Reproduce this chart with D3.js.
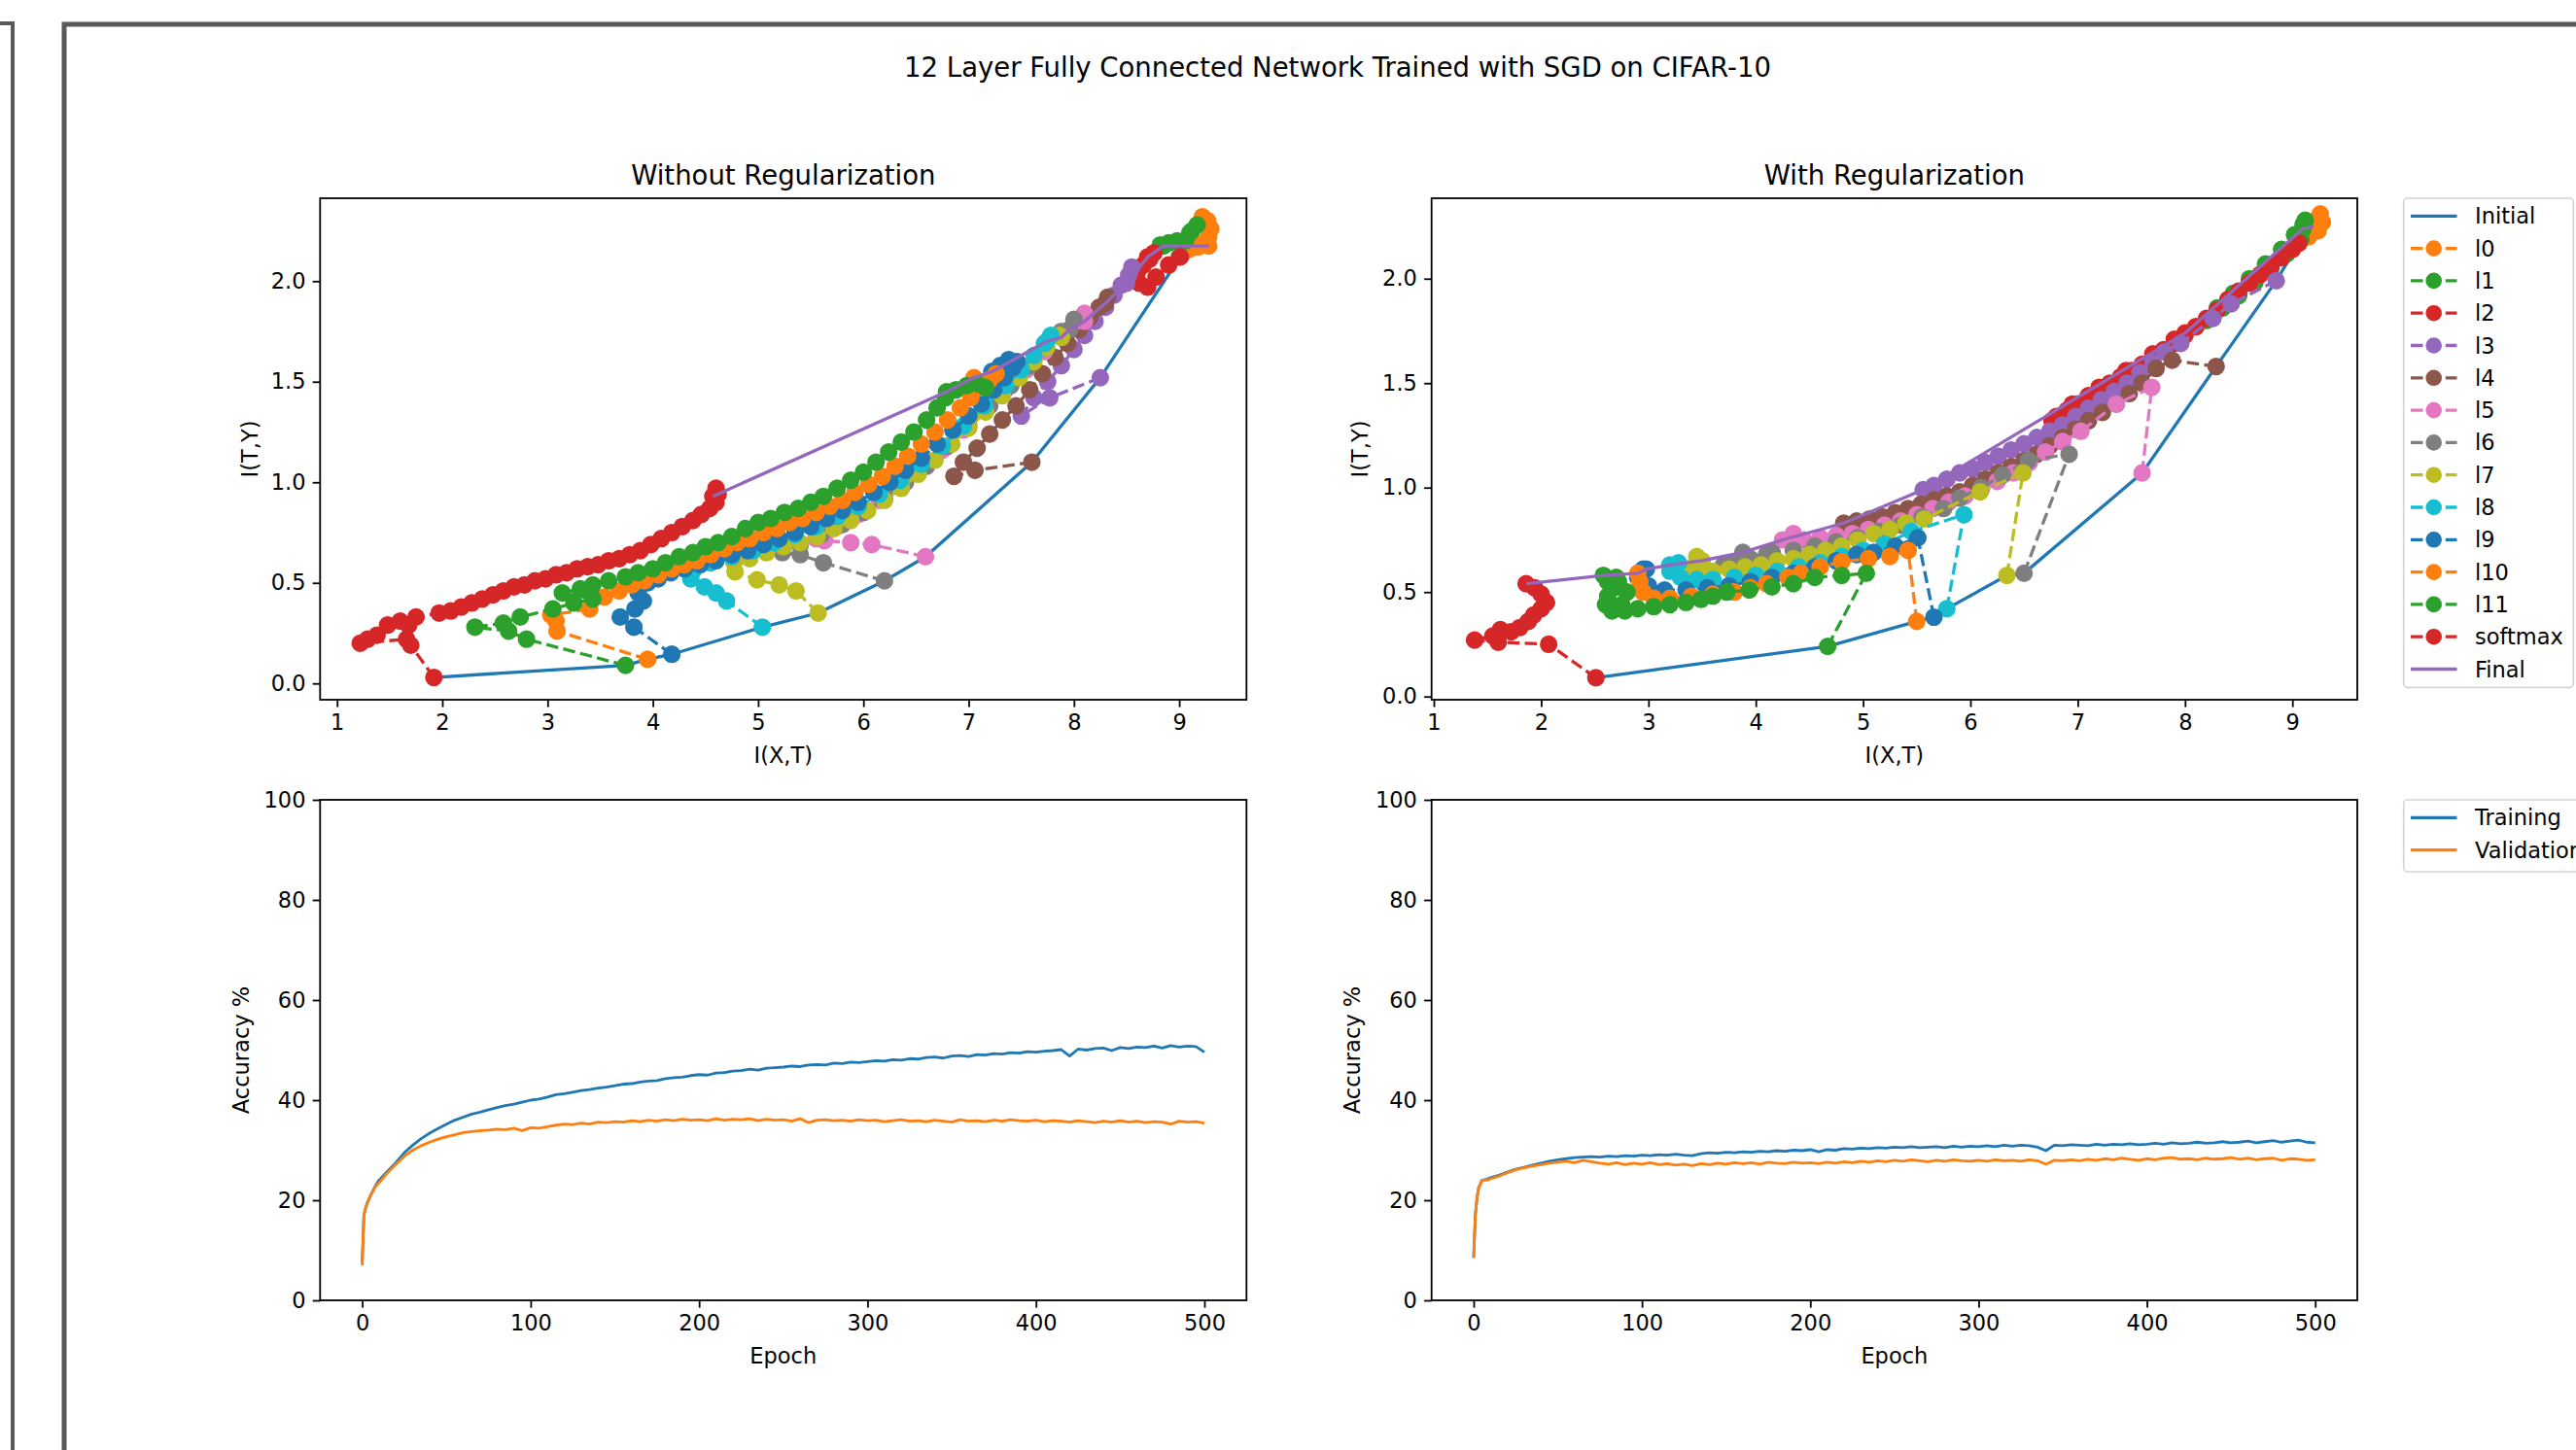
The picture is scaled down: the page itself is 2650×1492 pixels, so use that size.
<!DOCTYPE html>
<html lang='en'>
<head>
<meta charset='UTF-8'>
<title>12 Layer Fully Connected Network Trained with SGD on CIFAR-10</title>
<script src='https://cdn.jsdelivr.net/npm/d3@7/dist/d3.min.js'></script>
<style>
    body { margin: 0; background: #fff; }
    svg text { font-family: 'DejaVu Sans', sans-serif; fill: #000; }
    .axis line { stroke: #000; stroke-width: 1.8; }
    .axis text { font-size: 22.5px; }
</style>
</head>
<body>
<script>
// ---------- information plane trajectories, without regularization ----------
const nrL0 = [[9.02,2.13],[9.1,2.16],[9.18,2.17],[9.24,2.19],[9.28,2.22],[9.3,2.26],[9.27,2.3],[9.22,2.32],[9.26,2.2],[9.28,2.175]];
const nrL1 = [[9.0,2.12],[9.06,2.2],[9.12,2.25],[9.17,2.28],[9.1,2.24],[8.98,2.2],[8.9,2.19],[8.82,2.18],[8.85,2.175]];
const nrL2 = [[9.01,2.12],[8.9,2.08],[8.78,2.02],[8.7,1.97],[8.62,1.99],[8.6,2.04],[8.66,2.08],[8.72,2.11],[8.76,2.14],[8.7,2.12]];
const nrL3 = [[8.25,1.52],[7.77,1.42],[7.5,1.33],[7.62,1.42],[7.75,1.5],[7.88,1.58],[8.0,1.66],[8.1,1.73],[8.2,1.8],[8.3,1.87],[8.38,1.93],[8.45,1.98],[8.52,2.03],[8.55,2.07],[8.5,1.99]];
const nrL4 = [[7.6,1.10],[7.06,1.06],[6.86,1.03],[6.95,1.1],[7.08,1.17],[7.2,1.24],[7.32,1.31],[7.45,1.38],[7.58,1.46],[7.7,1.54],[7.82,1.62],[7.94,1.69],[8.05,1.76],[8.15,1.82],[8.24,1.87],[8.32,1.92],[8.3,1.89]];
const nrL5 = [[6.59,0.63],[6.08,0.69],[5.88,0.7],[5.63,0.71],[5.55,0.72],[5.75,0.78],[5.95,0.84],[6.15,0.91],[6.35,0.99],[6.55,1.07],[6.75,1.16],[6.95,1.26],[7.15,1.36],[7.35,1.46],[7.55,1.56],[7.72,1.65],[7.88,1.73],[8.02,1.8],[8.1,1.84],[8.1,1.8]];
const nrL6 = [[6.2,0.51],[5.62,0.6],[5.4,0.64],[5.23,0.65],[5.4,0.69],[5.6,0.74],[5.8,0.79],[6.0,0.85],[6.2,0.92],[6.4,1.0],[6.6,1.08],[6.8,1.18],[7.0,1.28],[7.2,1.38],[7.4,1.48],[7.58,1.58],[7.74,1.67],[7.88,1.75],[8.0,1.81],[7.96,1.76]];
const nrL7 = [[5.57,0.35],[5.36,0.46],[5.2,0.49],[4.99,0.515],[4.78,0.555],[4.77,0.6],[4.92,0.62],[5.08,0.65],[5.24,0.68],[5.4,0.7],[5.56,0.73],[5.72,0.77],[5.88,0.81],[6.04,0.86],[6.2,0.91],[6.36,0.97],[6.52,1.04],[6.68,1.11],[6.84,1.19],[7.0,1.27],[7.16,1.35],[7.32,1.43],[7.48,1.52],[7.62,1.6],[7.74,1.67],[7.86,1.73],[7.88,1.72]];
const nrL8 = [[5.04,0.28],[4.7,0.41],[4.6,0.45],[4.49,0.48],[4.36,0.52],[4.38,0.56],[4.55,0.6],[4.75,0.63],[4.95,0.66],[5.15,0.7],[5.35,0.74],[5.55,0.78],[5.75,0.83],[5.95,0.88],[6.15,0.94],[6.35,1.01],[6.55,1.09],[6.75,1.18],[6.95,1.28],[7.15,1.38],[7.35,1.48],[7.5,1.56],[7.62,1.63],[7.72,1.69],[7.78,1.73],[7.74,1.7]];
const nrL9 = [[4.18,0.145],[3.82,0.28],[3.69,0.33],[3.83,0.37],[3.91,0.41],[3.86,0.45],[3.95,0.5],[4.05,0.52],[4.17,0.55],[4.3,0.57],[4.45,0.59],[4.6,0.61],[4.75,0.64],[4.9,0.66],[5.05,0.69],[5.2,0.72],[5.35,0.75],[5.5,0.78],[5.65,0.82],[5.8,0.86],[5.95,0.9],[6.1,0.95],[6.25,1.0],[6.4,1.06],[6.55,1.12],[6.7,1.19],[6.85,1.26],[7.0,1.33],[7.12,1.39],[7.24,1.46],[7.34,1.52],[7.42,1.57],[7.46,1.6],[7.38,1.61],[7.3,1.58],[7.22,1.55]];
const nrL10 = [[3.95,0.12],[3.09,0.26],[3.08,0.31],[3.03,0.34],[3.4,0.37],[3.54,0.43],[3.68,0.46],[3.8,0.49],[3.92,0.51],[4.05,0.54],[4.18,0.57],[4.3,0.59],[4.42,0.61],[4.55,0.64],[4.68,0.67],[4.8,0.7],[4.92,0.72],[5.05,0.75],[5.18,0.77],[5.3,0.8],[5.42,0.82],[5.55,0.85],[5.68,0.88],[5.8,0.91],[5.92,0.95],[6.05,0.99],[6.18,1.03],[6.3,1.08],[6.42,1.13],[6.55,1.19],[6.68,1.25],[6.8,1.31],[6.92,1.37],[7.02,1.42],[7.12,1.47],[7.2,1.51],[7.26,1.54],[7.05,1.52]];
const nrL11 = [[3.74,0.09],[2.8,0.22],[2.63,0.26],[2.31,0.28],[2.58,0.3],[2.74,0.33],[3.05,0.37],[3.25,0.40],[3.43,0.42],[3.14,0.45],[3.31,0.47],[3.43,0.49],[3.58,0.51],[3.74,0.53],[3.86,0.55],[4.0,0.57],[4.12,0.6],[4.25,0.63],[4.38,0.65],[4.5,0.68],[4.62,0.7],[4.75,0.73],[4.88,0.77],[5.0,0.8],[5.12,0.82],[5.25,0.85],[5.38,0.87],[5.5,0.9],[5.62,0.93],[5.75,0.97],[5.88,1.01],[6.0,1.05],[6.12,1.1],[6.24,1.15],[6.36,1.2],[6.48,1.25],[6.6,1.31],[6.7,1.37],[6.78,1.42],[6.88,1.46],[6.98,1.48],[7.08,1.49],[7.16,1.47],[6.79,1.45]];
const nrSoftmax = [[1.92,0.03],[1.70,0.19],[1.66,0.22],[1.22,0.2],[1.29,0.22],[1.38,0.24],[1.48,0.29],[1.6,0.31],[1.68,0.29],[1.75,0.33],[1.97,0.35],[2.08,0.36],[2.18,0.38],[2.28,0.4],[2.38,0.42],[2.48,0.44],[2.58,0.46],[2.68,0.48],[2.78,0.49],[2.88,0.51],[2.98,0.52],[3.08,0.54],[3.18,0.55],[3.28,0.57],[3.38,0.58],[3.48,0.59],[3.58,0.61],[3.68,0.62],[3.78,0.64],[3.88,0.66],[3.98,0.69],[4.08,0.72],[4.18,0.75],[4.28,0.78],[4.38,0.81],[4.46,0.84],[4.54,0.87],[4.6,0.9],[4.62,0.94],[4.6,0.97],[4.57,0.93]];

// ---------- information plane trajectories, with regularization ----------
const wrL0 = [[9.1,2.2],[9.16,2.24],[9.22,2.28],[9.26,2.31],[9.28,2.27],[9.24,2.23],[9.15,2.2],[9.2,2.25]];
const wrL1 = [[9.08,2.19],[8.95,2.12],[8.8,2.05],[8.65,1.98],[8.5,1.92],[8.35,1.86],[8.2,1.8],[8.3,1.86],[8.45,1.93],[8.6,2.0],[8.75,2.07],[8.9,2.14],[9.02,2.21],[9.1,2.26],[9.12,2.28],[9.1,2.24]];
const wrL2 = [[9.06,2.17],[9.0,2.14],[8.9,2.1],[8.8,2.06],[8.7,2.02],[8.6,1.98],[8.5,1.94],[8.4,1.9],[8.3,1.85],[8.2,1.81],[8.1,1.77],[8.0,1.73],[7.9,1.69],[7.8,1.66],[7.7,1.62],[7.6,1.59],[7.5,1.56],[7.4,1.53],[7.3,1.5],[7.2,1.47],[7.1,1.44],[7.0,1.4],[6.9,1.37],[6.8,1.34],[6.76,1.32],[6.95,1.4],[7.2,1.48],[7.45,1.56],[7.7,1.64],[7.9,1.71],[8.0,1.74]];
const wrL3 = [[8.85,1.99],[8.43,1.88],[8.26,1.81],[7.96,1.69],[7.81,1.65],[7.7,1.6],[7.58,1.55],[7.46,1.5],[7.34,1.46],[7.22,1.42],[7.1,1.38],[6.98,1.34],[6.86,1.3],[6.74,1.27],[6.62,1.24],[6.5,1.21],[6.38,1.18],[6.26,1.15],[6.14,1.12],[6.02,1.09],[5.9,1.07],[5.78,1.04],[5.66,1.01],[5.56,0.99]];
const wrL4 = [[8.29,1.58],[7.88,1.61],[7.73,1.57],[7.6,1.5],[7.48,1.45],[7.36,1.4],[7.23,1.36],[7.1,1.32],[6.98,1.28],[6.86,1.24],[6.74,1.2],[6.62,1.16],[6.5,1.13],[6.38,1.1],[6.26,1.07],[6.14,1.04],[6.02,1.01],[5.9,0.98],[5.78,0.96],[5.66,0.94],[5.54,0.92],[5.42,0.9],[5.3,0.88],[5.18,0.86],[5.06,0.85],[4.94,0.84],[4.82,0.83]];
const wrL5 = [[7.6,1.07],[7.69,1.48],[7.36,1.4],[7.03,1.27],[6.86,1.22],[6.7,1.17],[6.55,1.12],[6.4,1.07],[6.25,1.03],[6.1,0.99],[5.95,0.96],[5.8,0.93],[5.65,0.9],[5.5,0.87],[5.35,0.84],[5.2,0.82],[5.05,0.8],[4.9,0.78],[4.75,0.77],[4.6,0.76],[4.45,0.75],[4.35,0.78],[4.25,0.75]];
const wrL6 = [[6.5,0.59],[6.92,1.16],[6.54,1.13],[6.3,1.06],[6.1,1.0],[5.9,0.95],[5.75,0.9],[5.55,0.86],[5.35,0.82],[5.15,0.79],[4.95,0.76],[4.75,0.74],[4.55,0.72],[4.35,0.7],[4.15,0.69],[4.1,0.68],[3.95,0.66],[3.8,0.64],[3.7,0.63],[3.88,0.69]];
const wrL7 = [[6.34,0.58],[6.49,1.07],[6.09,0.98],[5.57,0.85],[5.4,0.83],[5.25,0.8],[5.1,0.78],[4.95,0.75],[4.8,0.72],[4.65,0.7],[4.5,0.68],[4.35,0.66],[4.2,0.65],[4.05,0.63],[3.9,0.62],[3.75,0.61],[3.6,0.6],[3.5,0.58],[3.42,0.62],[3.45,0.67],[3.5,0.65]];
const wrL8 = [[5.78,0.42],[5.94,0.87],[5.45,0.79],[5.2,0.73],[5.0,0.7],[4.8,0.67],[4.6,0.64],[4.4,0.62],[4.2,0.6],[4.0,0.58],[3.8,0.57],[3.6,0.56],[3.45,0.56],[3.3,0.57],[3.2,0.6],[3.28,0.64],[3.2,0.63]];
const wrL9 = [[5.66,0.38],[5.51,0.76],[5.3,0.72],[5.1,0.69],[4.94,0.68],[4.75,0.65],[4.55,0.62],[4.35,0.59],[4.15,0.57],[3.95,0.55],[3.75,0.53],[3.55,0.52],[3.35,0.51],[3.15,0.51],[3.0,0.53],[2.9,0.57],[2.95,0.61],[2.98,0.61]];
const wrL10 = [[5.5,0.36],[5.42,0.7],[5.25,0.67],[5.05,0.66],[4.8,0.645],[4.6,0.62],[4.42,0.59],[4.3,0.57],[4.1,0.54],[3.95,0.52],[3.8,0.5],[3.6,0.49],[3.4,0.48],[3.2,0.47],[3.05,0.47],[2.95,0.5],[2.92,0.55],[2.9,0.59]];
const wrL11 = [[4.67,0.24],[5.03,0.59],[4.8,0.58],[4.55,0.57],[4.35,0.54],[4.15,0.525],[3.94,0.51],[3.73,0.5],[3.6,0.48],[3.49,0.465],[3.35,0.45],[3.2,0.44],[3.05,0.43],[2.9,0.42],[2.78,0.41],[2.66,0.41],[2.75,0.44],[2.6,0.44],[2.62,0.48],[2.8,0.5],[2.66,0.52],[2.72,0.55],[2.62,0.55],[2.7,0.57],[2.58,0.58]];
const wrSoftmax = [[2.51,0.09],[2.07,0.25],[1.6,0.26],[1.38,0.27],[1.55,0.29],[1.62,0.32],[1.72,0.31],[1.8,0.33],[1.88,0.36],[1.93,0.39],[2.0,0.42],[2.05,0.45],[2.0,0.49],[1.94,0.52],[1.86,0.54]];

const layerNames = ['l0', 'l1', 'l2', 'l3', 'l4', 'l5', 'l6', 'l7', 'l8', 'l9', 'l10', 'l11', 'softmax'];
const noRegLayers = [nrL0, nrL1, nrL2, nrL3, nrL4, nrL5, nrL6, nrL7, nrL8, nrL9, nrL10, nrL11, nrSoftmax];
const withRegLayers = [wrL0, wrL1, wrL2, wrL3, wrL4, wrL5, wrL6, wrL7, wrL8, wrL9, wrL10, wrL11, wrSoftmax];

// ---------- accuracy curves ----------
const epochs = [0,1,2,3,5,8,10,15,20,25,30,35,40,45,50,55,60,65,70,75,80,85,90,95,100,105,110,115,120,125,130,135,140,145,150,155,160,165,170,175,180,185,190,195,200,205,210,215,220,225,230,235,240,245,250,255,260,265,270,275,280,285,290,295,300,305,310,315,320,325,330,335,340,345,350,355,360,365,370,375,380,385,390,395,400,405,410,415,420,425,430,435,440,445,450,455,460,465,470,475,480,485,490,495,500];
const noRegTraining = [7.5,17,18.5,19.5,21,23,
    24,25.8,27.5,29.5,31,32.3,33.4,34.3,35.2,36,36.6,37.2,37.6,38.1,38.5,38.9,39.2,39.6,40.0,
    40.2,40.6,41.1,41.3,41.6,41.9,42.1,42.4,42.6,42.9,43.2,43.3,43.6,43.8,43.9,44.3,44.5,44.6,44.9,45.1,
    45.0,45.4,45.5,45.8,45.9,46.2,46.0,46.4,46.5,46.6,46.8,46.7,47.0,47.1,47.0,47.4,47.3,47.6,47.5,47.7,
    47.9,47.8,48.1,48.0,48.3,48.2,48.5,48.6,48.4,48.8,48.9,48.7,49.1,49.0,49.3,49.2,49.5,49.4,49.7,49.6,
    49.8,49.9,50.1,48.8,50.2,50.0,50.3,50.4,49.9,50.5,50.3,50.6,50.5,50.8,50.4,50.9,50.6,50.8,50.7,49.6];
const noRegValidation = [7,17,18.3,19.3,21,22.8,
    23.5,25.5,27.2,28.8,30,30.9,31.6,32.2,32.7,33.1,33.5,33.7,33.9,34.0,34.2,34.1,34.4,33.9,34.5,
    34.4,34.7,35.0,35.2,35.1,35.4,35.2,35.6,35.5,35.7,35.6,35.9,35.7,36.0,35.8,36.1,35.9,36.2,36.0,36.1,
    35.9,36.3,36.0,36.2,36.1,36.3,35.9,36.2,36.0,36.1,35.8,36.3,35.5,36.0,36.1,35.9,36.0,35.8,36.1,35.9,
    36.0,35.7,35.9,36.1,35.8,35.9,35.7,36.0,35.8,35.6,36.1,35.8,35.9,35.7,36.0,35.8,36.1,35.9,35.8,36.0,
    35.7,35.9,35.8,35.6,35.9,35.7,35.5,35.8,35.6,35.9,35.6,35.8,35.5,35.7,35.6,35.2,35.8,35.6,35.7,35.4];
const withRegTraining = [8.5,17,20.5,22.5,24,24.2,
    24.5,25,25.6,26.2,26.6,27,27.4,27.8,28.1,28.3,28.5,28.6,28.7,28.6,28.8,28.7,28.9,28.8,29.0,
    28.9,29.1,29.0,29.2,29.0,28.9,29.3,29.5,29.4,29.6,29.5,29.7,29.6,29.8,29.7,29.9,29.8,30.0,29.9,30.1,
    29.7,30.1,30.0,30.3,30.2,30.4,30.3,30.5,30.4,30.6,30.5,30.7,30.5,30.6,30.7,30.5,30.8,30.6,30.8,30.7,
    30.9,30.7,31.0,30.8,31.0,30.9,30.6,29.9,31.0,30.9,31.1,31.0,30.9,31.2,31.0,31.2,31.1,31.3,31.1,31.2,
    31.4,31.2,31.5,31.3,31.4,31.6,31.4,31.5,31.7,31.5,31.6,31.8,31.5,31.7,31.9,31.6,31.8,32.0,31.6,31.5];
const withRegValidation = [8.5,17,20.5,22.5,24,24,
    24.3,24.8,25.5,26.1,26.5,26.8,27.1,27.4,27.6,27.8,27.5,28.0,27.7,27.4,27.2,27.5,27.1,27.4,27.2,
    27.5,27.1,27.3,27.0,27.2,26.9,27.3,27.1,27.4,27.2,27.5,27.3,27.5,27.2,27.6,27.4,27.3,27.6,27.4,27.5,
    27.3,27.6,27.4,27.7,27.5,27.8,27.6,27.9,27.7,28.0,27.8,28.1,27.9,27.7,28.0,27.8,28.1,27.9,27.8,28.0,
    27.8,28.1,27.9,28.0,27.8,28.1,27.9,27.2,28.0,27.9,28.1,27.9,28.2,28.0,28.3,28.1,28.4,28.2,28.0,28.3,
    28.1,28.4,28.5,28.2,28.3,28.1,28.4,28.2,28.3,28.5,28.2,28.4,28.1,28.3,28.4,28.0,28.3,28.2,28.0,28.1];

const infoXTicks = [1, 2, 3, 4, 5, 6, 7, 8, 9];
const infoYTicks = [0, 0.5, 1.0, 1.5, 2.0];
const epochTicks = [0, 100, 200, 300, 400, 500];
const accTicks = [0, 20, 40, 60, 80, 100];

/**
 * ===================================================
 * Layout and styles
 * ===================================================
*/
const tab10 = ['#1f77b4', '#ff7f0e', '#2ca02c', '#d62728', '#9467bd', '#8c564b', '#e377c2', '#7f7f7f', '#bcbd22', '#17becf'];
// colour cycle: Initial takes the first colour, then l0 ... softmax, then Final
const layerColor = i => tab10[(i + 1) % 10];
const initialColor = tab10[0];
const finalColor = tab10[4];

const width = 2650, height = 1492;
const lineW = 3.3;
const dash = '12.5,5.4';
const markerR = 8;
const labelSize = '22.5px';
const titleSize = '27.5px';

const boxes = {
    tl: { x0: 329.3, x1: 1282.3, y0: 204, y1: 720 },
    tr: { x0: 1472.7, x1: 2425, y0: 204, y1: 720 },
    bl: { x0: 329.3, x1: 1282.3, y0: 823, y1: 1338 },
    br: { x0: 1472.7, x1: 2425, y0: 823, y1: 1338 }
};

const svg = d3.select('body')
    .append('svg')
    .attr('width', width)
    .attr('height', height);

svg.append('rect').attr('width', width).attr('height', height).attr('fill', '#fff');

const defs = svg.append('defs');
Object.entries(boxes).forEach(([k, b]) => {
    defs.append('clipPath').attr('id', 'clip-' + k)
        .append('rect')
        .attr('x', b.x0).attr('y', b.y0)
        .attr('width', b.x1 - b.x0).attr('height', b.y1 - b.y0);
});

function drawAxes(key, b, xScale, yScale, xTicks, yTicks, xFmt, yFmt, xLabel, yLabel, yLabelX) {
    svg.append('g')
        .attr('class', 'axis')
        .attr('transform', `translate(0, ${b.y1})`)
        .call(d3.axisBottom(xScale).tickValues(xTicks).tickFormat(xFmt).tickSize(7.6).tickPadding(7.2))
        .call(g => g.select('.domain').remove());

    svg.append('g')
        .attr('class', 'axis')
        .attr('transform', `translate(${b.x0}, 0)`)
        .call(d3.axisLeft(yScale).tickValues(yTicks).tickFormat(yFmt).tickSize(7.6).tickPadding(7.2))
        .call(g => g.select('.domain').remove());

    svg.append('rect')
        .attr('x', b.x0).attr('y', b.y0)
        .attr('width', b.x1 - b.x0).attr('height', b.y1 - b.y0)
        .attr('fill', 'none').attr('stroke', '#000').attr('stroke-width', 1.8);

    svg.append('text')
        .attr('x', (b.x0 + b.x1) / 2).attr('y', b.y1 + 65)
        .attr('text-anchor', 'middle').style('font-size', labelSize)
        .text(xLabel);

    svg.append('text')
        .attr('transform', `translate(${yLabelX}, ${(b.y0 + b.y1) / 2}) rotate(-90)`)
        .attr('text-anchor', 'middle').style('font-size', labelSize)
        .text(yLabel);
}

function drawInfoPlane(key, layers, xDomain, yDomain, title, yLabelX) {
    const b = boxes[key];
    const xScale = d3.scaleLinear().domain(xDomain).range([b.x0, b.x1]);
    const yScale = d3.scaleLinear().domain(yDomain).range([b.y1, b.y0]);
    const line = d3.line().x(d => xScale(d[0])).y(d => yScale(d[1]));

    const g = svg.append('g').attr('clip-path', `url(#clip-${key})`);

    // Initial: first point of each layer
    g.append('path')
        .datum(layers.map(p => p[0]))
        .attr('d', line)
        .attr('fill', 'none').attr('stroke', initialColor).attr('stroke-width', lineW);

    layers.forEach((pts, i) => {
        const c = layerColor(i);
        const lg = g.append('g');
        lg.append('path')
            .datum(pts)
            .attr('d', line)
            .attr('fill', 'none').attr('stroke', c)
            .attr('stroke-width', lineW).attr('stroke-dasharray', dash);
        lg.selectAll('circle')
            .data(pts)
            .enter().append('circle')
            .attr('cx', d => xScale(d[0]))
            .attr('cy', d => yScale(d[1]))
            .attr('r', markerR)
            .attr('fill', c).attr('stroke', c).attr('stroke-width', 2.2);
    });

    // Final: last point of each layer
    g.append('path')
        .datum(layers.map(p => p[p.length - 1]))
        .attr('d', line)
        .attr('fill', 'none').attr('stroke', finalColor).attr('stroke-width', lineW);

    drawAxes(key, b, xScale, yScale, infoXTicks, infoYTicks, d3.format('d'), d3.format('.1f'), 'I(X,T)', 'I(T,Y)', yLabelX);

    svg.append('text')
        .attr('x', (b.x0 + b.x1) / 2).attr('y', b.y0 - 14)
        .attr('text-anchor', 'middle').style('font-size', titleSize)
        .text(title);
}

function drawAccuracy(key, training, validation, yLabelX) {
    const b = boxes[key];
    const xScale = d3.scaleLinear().domain([-25, 525]).range([b.x0, b.x1]);
    const yScale = d3.scaleLinear().domain([0, 100]).range([b.y1, b.y0]);
    const line = d3.line().x((d, i) => xScale(epochs[i])).y(d => yScale(d));

    const g = svg.append('g').attr('clip-path', `url(#clip-${key})`);
    [[training, tab10[0]], [validation, tab10[1]]].forEach(([vals, c]) => {
        g.append('path')
            .datum(vals)
            .attr('d', line)
            .attr('fill', 'none').attr('stroke', c)
            .attr('stroke-width', 2.8).attr('stroke-linejoin', 'round');
    });

    drawAxes(key, b, xScale, yScale, epochTicks, accTicks, d3.format('d'), d3.format('d'), 'Epoch', 'Accuracy %', yLabelX);
}

/**
 * ===================================================
 * Drawing
 * ===================================================
*/
svg.append('text')
    .attr('x', 1376).attr('y', 79)
    .attr('text-anchor', 'middle').style('font-size', titleSize)
    .text('12 Layer Fully Connected Network Trained with SGD on CIFAR-10');

drawInfoPlane('tl', noRegLayers, [0.839, 9.639], [-0.081, 2.412], 'Without Regularization', 265);
drawInfoPlane('tr', withRegLayers, [0.979, 9.605], [-0.0153, 2.385], 'With Regularization', 1407);
drawAccuracy('bl', noRegTraining, noRegValidation, 256);
drawAccuracy('br', withRegTraining, withRegValidation, 1399);

// Legends
function legendBox(x, y, w, h) {
    svg.append('rect')
        .attr('x', x).attr('y', y).attr('width', w).attr('height', h)
        .attr('rx', 4)
        .attr('fill', '#fff').attr('stroke', '#d6d6d6').attr('stroke-width', 1.7);
}

const legendItems = [{ name: 'Initial', color: initialColor, marker: false }]
    .concat(layerNames.map((n, i) => ({ name: n, color: layerColor(i), marker: true })))
    .concat([{ name: 'Final', color: finalColor, marker: false }]);

legendBox(2472.7, 204, 174.6, 503.3);
legendItems.forEach((d, i) => {
    const cy = 222.3 + i * 33.3;
    svg.append('line')
        .attr('x1', 2480).attr('x2', 2527.5).attr('y1', cy).attr('y2', cy)
        .attr('stroke', d.color).attr('stroke-width', lineW)
        .attr('stroke-dasharray', d.marker ? dash : null);
    if (d.marker) {
        svg.append('circle')
            .attr('cx', 2503.7).attr('cy', cy).attr('r', 7.2)
            .attr('fill', d.color).attr('stroke', d.color).attr('stroke-width', 2.2);
    }
    svg.append('text')
        .attr('x', 2546).attr('y', cy + 8)
        .style('font-size', labelSize)
        .text(d.name);
});

const accLegend = [{ name: 'Training', color: tab10[0] }, { name: 'Validation', color: tab10[1] }];
legendBox(2472.7, 823, 200, 74);
accLegend.forEach((d, i) => {
    const cy = 841.3 + i * 33.3;
    svg.append('line')
        .attr('x1', 2480).attr('x2', 2527.5).attr('y1', cy).attr('y2', cy)
        .attr('stroke', d.color).attr('stroke-width', lineW);
    svg.append('text')
        .attr('x', 2546).attr('y', cy + 8)
        .style('font-size', labelSize)
        .text(d.name);
});

// Surrounding frame of the page
svg.append('path')
    .attr('d', 'M0,24 H13 V1492')
    .attr('fill', 'none').attr('stroke', '#595959').attr('stroke-width', 4);
svg.append('path')
    .attr('d', 'M66,1492 V25 H2660')
    .attr('fill', 'none').attr('stroke', '#595959').attr('stroke-width', 5);
</script>
</body>
</html>
